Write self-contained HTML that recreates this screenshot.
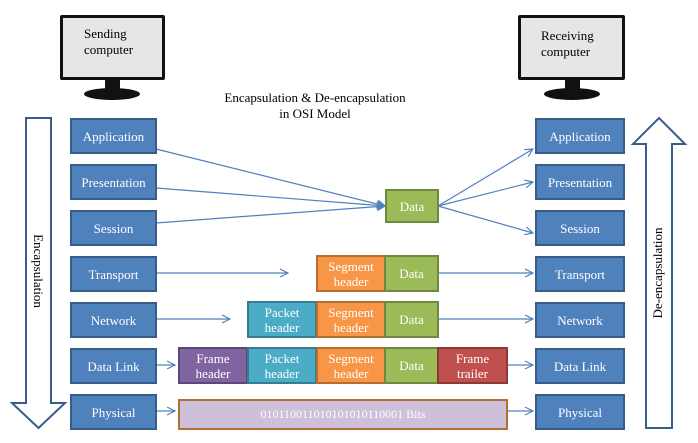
<!DOCTYPE html>
<html><head><style>
body{margin:0;background:#fff;width:698px;height:443px;overflow:hidden;font-family:"Liberation Serif",serif;}
.b{position:absolute;box-sizing:border-box;border:2px solid #385d8a;background:#4f81bd;color:#fff;font-size:13px;display:flex;align-items:center;justify-content:center;text-align:center;line-height:15px;}
.t{position:absolute;font-size:13px;color:#000;text-align:center;line-height:16px;}
</style></head><body>
<svg width="698" height="443" style="position:absolute;left:0;top:0">
<defs><marker id="a" markerWidth="10" markerHeight="10" refX="9" refY="5" orient="auto" markerUnits="userSpaceOnUse"><path d="M1,1 L9,5 L1,9" fill="none" stroke="#4f81bd" stroke-width="1.2"/></marker></defs>
<!-- monitors -->
<g>
<rect x="60" y="15" width="105" height="65" rx="2" fill="#111"/><rect x="63" y="18" width="99" height="59" fill="#e6e6e6"/>
<rect x="105" y="80" width="15" height="10" fill="#111"/><ellipse cx="112" cy="94" rx="28" ry="6" fill="#111"/>
<rect x="518" y="15" width="107" height="65" rx="2" fill="#111"/><rect x="521" y="18" width="101" height="59" fill="#e6e6e6"/>
<rect x="565" y="80" width="15" height="10" fill="#111"/><ellipse cx="572" cy="94" rx="28" ry="6" fill="#111"/>
</g>
<!-- big arrows -->
<path d="M26,118 H51 V403 H65 L38.5,428 L12,403 H26 Z" fill="#fff" stroke="#385d8a" stroke-width="2"/>
<path d="M646,428 H672 V144 H685 L659,118 L633,144 H646 Z" fill="#fff" stroke="#385d8a" stroke-width="2"/>
<g stroke="#4f81bd" stroke-width="1.2" fill="none" marker-end="url(#a)">
<line x1="156" y1="149" x2="385" y2="206"/>
<line x1="156" y1="188" x2="385" y2="206"/>
<line x1="156" y1="223" x2="385" y2="206"/>
<line x1="438" y1="206" x2="533" y2="149"/>
<line x1="438" y1="206" x2="533" y2="182"/>
<line x1="438" y1="206" x2="533" y2="233"/>
<line x1="156" y1="273" x2="288" y2="273"/>
<line x1="156" y1="319" x2="230" y2="319"/>
<line x1="156" y1="365" x2="175" y2="365"/>
<line x1="156" y1="411" x2="175" y2="411"/>
<line x1="438" y1="273" x2="533" y2="273"/>
<line x1="438" y1="319" x2="533" y2="319"/>
<line x1="507" y1="365" x2="533" y2="365"/>
<line x1="507" y1="411" x2="533" y2="411"/>
</g>
</svg>
<div class="t" style="left:84px;top:26px;text-align:left">Sending<br>computer</div>
<div class="t" style="left:541px;top:28px;text-align:left">Receiving<br>computer</div>
<div class="t" style="left:210px;top:90px;width:210px">Encapsulation &amp; De-encapsulation<br>in OSI Model</div>
<div class="t" style="left:-22px;top:263px;width:120px;transform:rotate(90deg)">Encapsulation</div>
<div class="t" style="left:598px;top:265px;width:120px;transform:rotate(-90deg)">De-encapsulation</div>

<div class="b" style="left:70px;top:118px;width:87px;height:36px">Application</div>
<div class="b" style="left:70px;top:164px;width:87px;height:36px">Presentation</div>
<div class="b" style="left:70px;top:210px;width:87px;height:36px">Session</div>
<div class="b" style="left:70px;top:256px;width:87px;height:36px">Transport</div>
<div class="b" style="left:70px;top:302px;width:87px;height:36px">Network</div>
<div class="b" style="left:70px;top:348px;width:87px;height:36px">Data Link</div>
<div class="b" style="left:70px;top:394px;width:87px;height:36px">Physical</div>

<div class="b" style="left:535px;top:118px;width:90px;height:36px">Application</div>
<div class="b" style="left:535px;top:164px;width:90px;height:36px">Presentation</div>
<div class="b" style="left:535px;top:210px;width:90px;height:36px">Session</div>
<div class="b" style="left:535px;top:256px;width:90px;height:36px">Transport</div>
<div class="b" style="left:535px;top:302px;width:90px;height:36px">Network</div>
<div class="b" style="left:535px;top:348px;width:90px;height:36px">Data Link</div>
<div class="b" style="left:535px;top:394px;width:90px;height:36px">Physical</div>

<div class="b" style="left:385px;top:189px;width:54px;height:34px;background:#9bbb59;border-color:#71893f">Data</div>

<div class="b" style="left:316px;top:255px;width:70px;height:37px;background:#f79646;border-color:#b66d31">Segment<br>header</div>
<div class="b" style="left:384px;top:255px;width:55px;height:37px;background:#9bbb59;border-color:#71893f">Data</div>

<div class="b" style="left:247px;top:301px;width:70px;height:37px;background:#4bacc6;border-color:#357d91">Packet<br>header</div>
<div class="b" style="left:316px;top:301px;width:70px;height:37px;background:#f79646;border-color:#b66d31">Segment<br>header</div>
<div class="b" style="left:384px;top:301px;width:55px;height:37px;background:#9bbb59;border-color:#71893f">Data</div>

<div class="b" style="left:178px;top:347px;width:70px;height:37px;background:#8064a2;border-color:#5c4776">Frame<br>header</div>
<div class="b" style="left:247px;top:347px;width:70px;height:37px;background:#4bacc6;border-color:#357d91">Packet<br>header</div>
<div class="b" style="left:316px;top:347px;width:70px;height:37px;background:#f79646;border-color:#b66d31">Segment<br>header</div>
<div class="b" style="left:384px;top:347px;width:55px;height:37px;background:#9bbb59;border-color:#71893f">Data</div>
<div class="b" style="left:437px;top:347px;width:71px;height:37px;background:#c0504d;border-color:#8c3836">Frame<br>trailer</div>

<div class="b" style="left:178px;top:399px;width:330px;height:31px;background:#ccc0da;border-color:#b66d31;font-size:12px">010110011010101010110001 Bits</div>
</body></html>
